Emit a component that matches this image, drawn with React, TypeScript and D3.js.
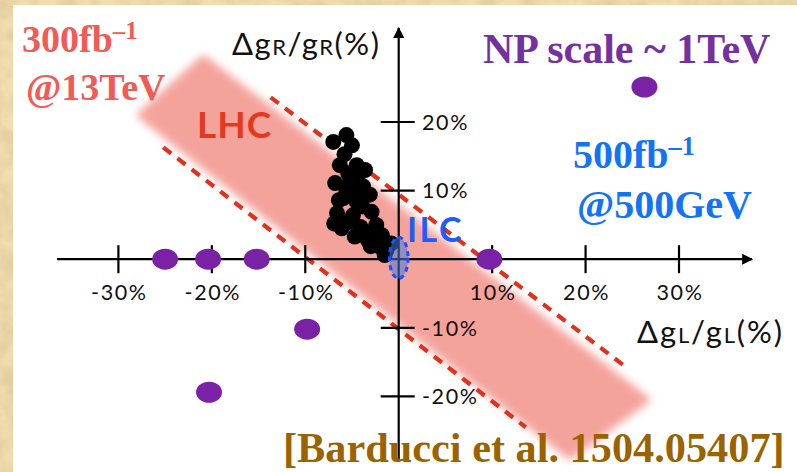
import React, { useEffect, useRef } from "react";
import * as d3 from "d3";

// tick values (percent)
const xTicks = [-30, -20, -10, 10, 20, 30];
const yTicks = [20, 10, -10, -20];

// NP scale ~ 1TeV benchmark points
const npX = [-25, -20.4, -15.2, -9.8, -20.3, 9.7, 26.3];
const npY = [0, 0, 0, -10.2, -19.4, 0, 25.1];

// black scan points
const scanX = [-5.6, -7.0, -5.0, -6.3, -4.5, -3.6, -6.8, -5.2, -3.8, -3.1, -5.9, -4.5, -6.6, -4.9, -2.9, -6.1, -4.1, -2.4, -3.3, -1.8, -2.0, -0.8, -1.3,
  -5.8, -5.4, -4.6, -5.6, -6.4, -3.9, -5.4, -3.6, -2.6, -4.7, -6.9, -4.4, -3.0, -1.5];
const scanY = [18.1, 17.1, 16.6, 13.7, 13.7, 13.0, 11.1, 11.3, 10.6, 9.4, 8.9, 8.4, 6.7, 6.4, 6.9, 4.5, 4.7, 5.0, 2.8, 3.5, 1.8, 2.3, 1.3,
  15.3, 12.5, 9.9, 9.8, 8.6, 7.7, 5.4, 4.0, 3.0, 3.3, 5.2, 12.0, 1.9, 0.6];

// LHC band corners and dashed boundaries
const bandX = [-20.9, -27.7, 18.3, 26.6];
const bandY = [29.3, 21.0, -28.8, -20.5];
const upperX = [-13.7, 24.4];
const upperY = [23.6, -15.8];
const lowerX = [-25.2, 13.6];
const lowerY = [16.3, -24.5];

// ILC ellipse (center, radii)
const ilc = { x: 0, y: 0.2, rx: 1.0, ry: 3.0 };

const W = 797, H = 472;

export default function App() {
  const ref = useRef<SVGSVGElement>(null);

  useEffect(() => {
    const svg = d3.select(ref.current);
    svg.selectAll("*").remove();

    const x = d3.scaleLinear().domain([-30, 30]).range([118.4, 679]);
    const y = d3.scaleLinear().domain([-20, 20]).range([396.4, 122]);

    const defs = svg.append("defs");
    const parch = defs.append("filter").attr("id", "parch").attr("x", 0).attr("y", 0).attr("width", 1).attr("height", 1);
    parch.append("feTurbulence").attr("type", "fractalNoise").attr("baseFrequency", 0.05).attr("numOctaves", 3).attr("seed", 4);
    parch.append("feColorMatrix").attr("values", "0 0 0 0 0.72  0 0 0 0 0.55  0 0 0 0 0.3  1.4 0 0 0 -0.45");
    defs.append("filter").attr("id", "blur").attr("x", -0.2).attr("y", -0.2).attr("width", 1.4).attr("height", 1.4)
      .append("feGaussianBlur").attr("stdDeviation", 4);
    defs.append("marker").attr("id", "arrow").attr("viewBox", "0 0 10 10").attr("refX", 9).attr("refY", 5)
      .attr("markerWidth", 6.5).attr("markerHeight", 5).attr("markerUnits", "strokeWidth").attr("orient", "auto")
      .append("path").attr("d", "M0,0L10,5L0,10Z").attr("fill", "#000");

    // parchment background + white panel
    svg.append("rect").attr("width", W).attr("height", H).attr("fill", "#f1ddb0");
    svg.append("rect").attr("width", W).attr("height", H).attr("filter", "url(#parch)");
    svg.append("rect").attr("x", 13).attr("y", 5).attr("width", W - 13).attr("height", H - 5).attr("fill", "#fff");

    // LHC band
    const band = bandX.map((d, i) => [x(d), y(bandY[i])] as [number, number]);
    svg.append("path").attr("d", "M" + band.join("L") + "Z").attr("fill", "#f4a39b")
      .attr("stroke", "#f4a39b").attr("stroke-width", 6).attr("stroke-linejoin", "round").attr("filter", "url(#blur)");

    [[upperX, upperY], [lowerX, lowerY]].forEach(([lx, ly]) => {
      svg.append("line")
        .attr("x1", x(lx[0])).attr("y1", y(ly[0])).attr("x2", x(lx[1])).attr("y2", y(ly[1]))
        .attr("stroke", "#e2301c").attr("stroke-width", 4.2).attr("stroke-dasharray", "10,8");
    });

    // axes
    const ax = svg.append("g").attr("stroke", "#000").attr("stroke-width", 2.2);
    ax.append("line").attr("x1", 57).attr("x2", 752).attr("y1", y(0)).attr("y2", y(0)).attr("marker-end", "url(#arrow)");
    ax.append("line").attr("x1", x(0)).attr("x2", x(0)).attr("y1", 462).attr("y2", 28).attr("marker-end", "url(#arrow)");
    ax.selectAll(".xt").data(xTicks).join("line")
      .attr("x1", (d) => x(d)).attr("x2", (d) => x(d)).attr("y1", y(0) - 14).attr("y2", y(0) + 14);
    ax.selectAll(".yt").data(yTicks).join("line")
      .attr("y1", (d) => y(d)).attr("y2", (d) => y(d)).attr("x1", x(0) - 18).attr("x2", x(0) + 16);

    const tick = svg.append("g").attr("font-family", "Lato, 'Open Sans', sans-serif").attr("font-size", 21.5)
      .attr("letter-spacing", 1.6).attr("fill", "#111");
    tick.selectAll(".xl").data(xTicks).join("text")
      .attr("x", (d) => x(d) + 1).attr("y", 300).attr("text-anchor", "middle").text((d) => `${d}%`);
    tick.selectAll(".yl").data(yTicks).join("text")
      .attr("x", 422).attr("y", (d) => y(d)).attr("dy", "0.36em").text((d) => `${d}%`);

    // axis titles
    const title = (tx: number, ty: number, sub: string, len: number) => {
      const t = svg.append("text").attr("x", tx).attr("y", ty).attr("font-family", "Lato, sans-serif")
        .attr("font-size", 31).attr("fill", "#111").attr("textLength", len).attr("lengthAdjust", "spacing");
      t.append("tspan").text("Δg");
      t.append("tspan").attr("font-size", 22).text(sub);
      t.append("tspan").text("/g");
      t.append("tspan").attr("font-size", 22).text(sub);
      t.append("tspan").text("(%)");
    };
    title(232, 55, "R", 147);
    title(637, 343, "L", 145);

    // black scan points
    svg.append("g").selectAll("circle").data(scanX).join("circle")
      .attr("cx", (d) => x(d)).attr("cy", (d, i) => y(scanY[i])).attr("r", 8).attr("fill", "#000");

    // ILC ellipse
    svg.append("ellipse")
      .attr("cx", x(ilc.x)).attr("cy", y(ilc.y))
      .attr("rx", x(ilc.rx) - x(0)).attr("ry", y(0) - y(ilc.ry))
      .attr("fill", "rgba(70,120,220,0.55)").attr("stroke", "#1c4fff").attr("stroke-width", 3).attr("stroke-dasharray", "5,4");

    // NP points
    svg.append("g").selectAll("ellipse").data(npX).join("ellipse")
      .attr("cx", (d) => x(d)).attr("cy", (d, i) => y(npY[i])).attr("rx", 13).attr("ry", 10.5).attr("fill", "#7a22a6");

    // labels
    const lab = (tx: number, ty: number, s: string, fill: string, size: number, fam = "'Liberation Serif', 'Times New Roman', serif") =>
      svg.append("text").attr("x", tx).attr("y", ty).attr("fill", fill).attr("font-size", size)
        .attr("font-weight", "bold").attr("font-family", fam).text(s);
    const sup = (tx: number, ty: number, s: string, fill: string, size: number) => {
      const t = lab(tx, ty, s, fill, size);
      t.append("tspan").attr("font-size", size * 0.66).attr("dy", -size * 0.33).text("–1");
    };

    sup(22, 52, "300fb", "#f25a55", 38);
    lab(26, 100, "@13TeV", "#f25a55", 38);
    lab(483, 63, "NP scale ~ 1TeV", "#7530a0", 42);
    sup(573, 168, "500fb", "#1273f5", 40);
    lab(577, 218, "@500GeV", "#1273f5", 40);
    lab(283, 462, "[Barducci et al. 1504.05407]", "#9a6300", 42.3);
    lab(197, 138, "LHC", "#e5391f", 37, "Lato, sans-serif").attr("letter-spacing", 1);
    lab(407, 242, "ILC", "#1f5cff", 34, "Lato, sans-serif").attr("letter-spacing", 2.5);
  }, []);

  return (
    <svg ref={ref} width={W} height={H} style={{ position: "absolute", left: 0, top: 0, display: "block" }} />
  );
}
